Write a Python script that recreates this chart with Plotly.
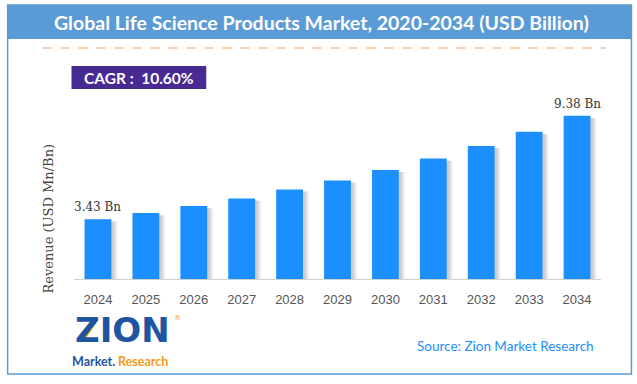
import plotly.graph_objects as go

years = ["2024", "2025", "2026", "2027", "2028", "2029", "2030", "2031", "2032", "2033", "2034"]
revenue = [3.43, 3.79, 4.19, 4.63, 5.15, 5.66, 6.27, 6.92, 7.65, 8.46, 9.38]
value_labels = ["3.43 Bn", "", "", "", "", "", "", "", "", "", "9.38 Bn"]

title_text = "Global Life Science Products Market, 2020-2034 (USD Billion)"
cagr_text = "CAGR :  10.60%"
source_text = "Source: Zion Market Research"
yaxis_title = "Revenue (USD Mn/Bn)"

W, H = 637, 384
L, R, T, B = 73.5, 601.5, 105, 279  # plot area in px

def px(x):
    return (x - L) / (R - L)

def py(y):
    return (B - y) / (B - T)

fig = go.Figure()

bw = 0.56
# shadow layers
for off, a in [(0.12, 0.10), (0.07, 0.16)]:
    fig.add_trace(go.Bar(
        x=list(range(len(years))), y=[v - 0.12 for v in revenue],
        width=bw, offset=-bw / 2 + off,
        marker=dict(color=f"rgba(60,60,60,{a})", line=dict(width=0)),
        hoverinfo="skip", showlegend=False))
fig.add_trace(go.Bar(
    x=list(range(len(years))), y=revenue,
    width=bw, offset=-bw / 2,
    marker=dict(color="#1C8FFF", line=dict(width=0)),
    showlegend=False))

annotations = []
for i, (v, lab) in enumerate(zip(revenue, value_labels)):
    if lab:
        annotations.append(dict(x=i, y=v, xref="x", yref="y", text=lab, showarrow=False,
                                yanchor="bottom", yshift=3,
                                font=dict(family="DejaVu Serif", size=12, color="#333333")))

# title in header
annotations.append(dict(x=px(321), y=py(22), xref="paper", yref="paper", text=f"<b>{title_text}</b>",
                        showarrow=False, xanchor="center", yanchor="middle",
                        font=dict(family="Lato", size=19.5, color="white")))
# CAGR box
annotations.append(dict(x=px(138.5), y=py(77.5), xref="paper", yref="paper", text=f"<b>{cagr_text}</b>",
                        showarrow=False, xanchor="center", yanchor="middle",
                        font=dict(family="Lato", size=15.5, color="white")))
# y title
annotations.append(dict(x=px(47), y=py(219), xref="paper", yref="paper", text=yaxis_title,
                        showarrow=False, textangle=-90, xanchor="center", yanchor="middle",
                        font=dict(family="DejaVu Serif", size=13, color="#444444")))
# source
annotations.append(dict(x=px(415), y=py(346), xref="paper", yref="paper", text=source_text,
                        showarrow=False, xanchor="left", yanchor="middle",
                        font=dict(family="Lato", size=13.5, color="#1C8FFF")))
# logo text
annotations.append(dict(x=px(74), y=py(330), xref="paper", yref="paper", text="<b>ZION</b>",
                        showarrow=False, xanchor="left", yanchor="middle", borderpad=0,
                        font=dict(family="DejaVu Sans", size=34, color="#1F55A0")))
annotations.append(dict(x=px(116), y=py(361), xref="paper", yref="paper", text="<b>Market.</b>",
                        showarrow=False, xanchor="right", yanchor="middle", borderpad=0,
                        font=dict(family="Lato", size=12.5, color="#1F55A0")))
annotations.append(dict(x=px(117), y=py(361), xref="paper", yref="paper", text="<b>Research</b>",
                        showarrow=False, xanchor="left", yanchor="middle", borderpad=0,
                        font=dict(family="Lato", size=12.5, color="#F39A1E")))
annotations.append(dict(x=px(177), y=py(318), xref="paper", yref="paper", text="®",
                        showarrow=False, xanchor="center", yanchor="middle", borderpad=0,
                        font=dict(family="DejaVu Sans", size=7, color="#F39A1E")))

shapes = [
    # outer frame
    dict(type="rect", xref="paper", yref="paper", x0=px(7), x1=px(632), y0=py(5), y1=py(374),
         line=dict(color="#5B9BD5", width=1.5), fillcolor="rgba(0,0,0,0)", layer="below"),
    # header band
    dict(type="rect", xref="paper", yref="paper", x0=px(7), x1=px(632), y0=py(5), y1=py(39),
         line=dict(width=0), fillcolor="#5B9BD5", layer="below"),
    # dashed line
    dict(type="line", xref="paper", yref="paper", x0=px(42), x1=px(606), y0=py(48), y1=py(48),
         line=dict(color="#F4A064", width=1.2, dash="dash")),
    # CAGR box
    dict(type="rect", xref="paper", yref="paper", x0=px(71), x1=px(206), y0=py(66), y1=py(89),
         line=dict(width=0), fillcolor="#482B92", layer="below"),
    # logo arrow
    dict(type="line", xref="paper", yref="paper", x0=px(82), x1=px(97), y0=py(341), y1=py(318),
         line=dict(color="#F39A1E", width=3)),
]

fig.update_layout(
    width=W, height=H,
    margin=dict(l=L, r=W - R, t=T, b=H - B, pad=0),
    paper_bgcolor="white", plot_bgcolor="white",
    barmode="overlay",
    annotations=annotations, shapes=shapes,
    xaxis=dict(range=[-0.5, 10.5], tickmode="array", tickvals=list(range(len(years))), ticktext=years,
               showline=True, linecolor="#D0D0D0", linewidth=1, showgrid=False, zeroline=False,
               ticks="", ticklabelstandoff=8,
               tickfont=dict(family="Liberation Sans", size=13, color="#555555")),
    yaxis=dict(range=[0, 10], visible=False, showgrid=False, zeroline=False),
    showlegend=False,
)

fig.write_html("out.html", config={"displayModeBar": False},
               post_script="document.body.style.margin='0';document.body.style.overflow='hidden';")
